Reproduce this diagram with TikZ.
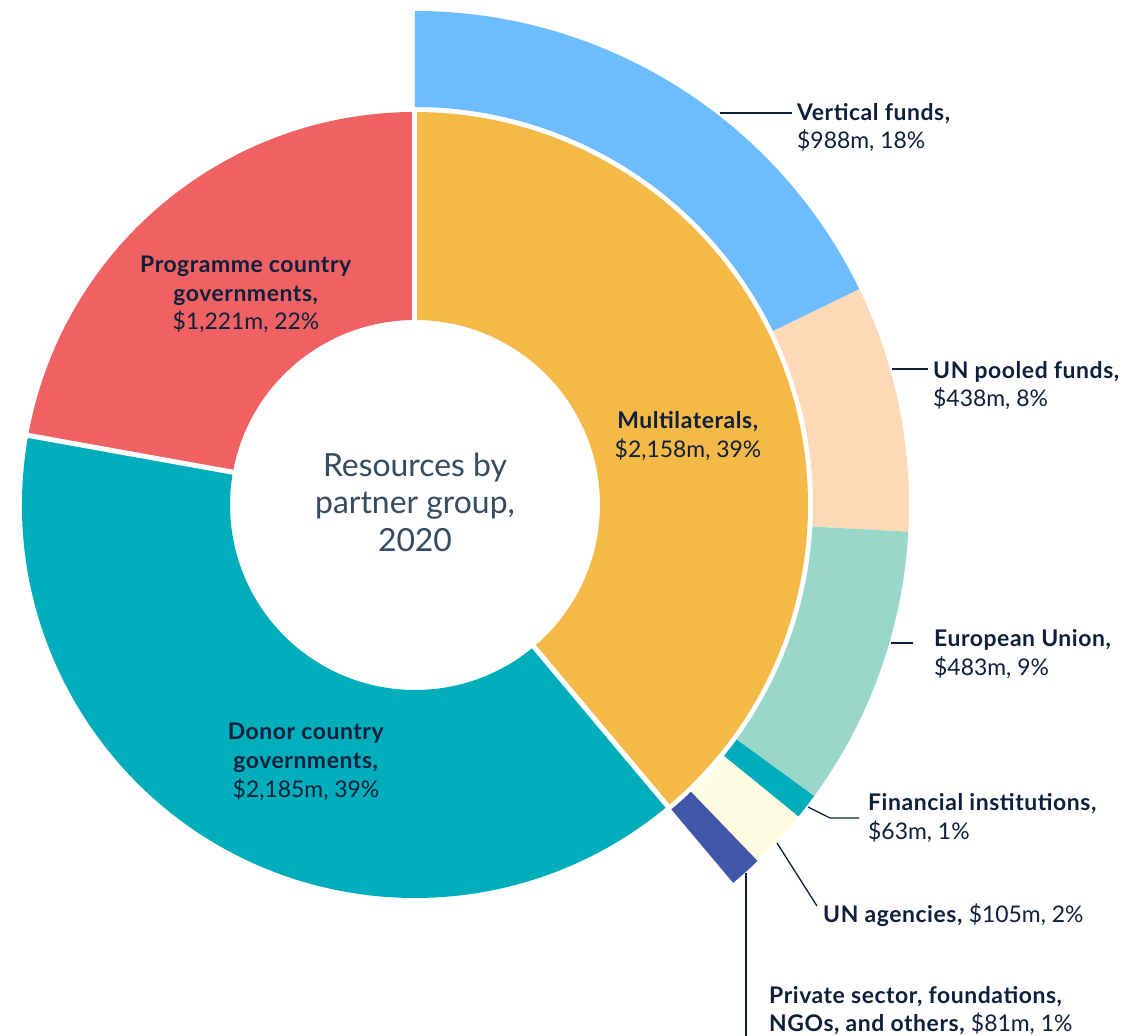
\documentclass[tikz,border=0pt]{standalone}
\usepackage{fontspec}
\setmainfont{Lato}[BoldFeatures={LetterSpace=2.5}]
\definecolor{ink}{HTML}{0E1F3B}
\definecolor{centerink}{HTML}{354B60}
\definecolor{cVF}{HTML}{6DBCFF}
\definecolor{cUNP}{HTML}{FDD9B8}
\definecolor{cEU}{HTML}{99D7C8}
\definecolor{cTeal}{HTML}{00AEBB}
\definecolor{cUNA}{HTML}{FFFDE1}
\definecolor{cPS}{HTML}{4056A9}
\definecolor{cMulti}{HTML}{F4B946}
\definecolor{cProg}{HTML}{EF6163}
\newcommand\annsec[5]{\fill[#1] (#2:#4) arc[start angle=#2,end angle=#3,radius=#4] -- (#3:#5) arc[start angle=#3,end angle=#2,radius=#5] -- cycle;}
\begin{document}
\begin{tikzpicture}[x=1bp,y=1bp,
  lbl/.style={inner sep=0pt, anchor=base west, align=left, text=ink, font=\fontsize{23}{29}\selectfont},
  inlbl/.style={inner sep=0pt, anchor=base, align=center, text=ink, font=\fontsize{23}{29}\selectfont},
  leader/.style={draw=ink, line width=1.3bp},
  sep/.style={draw=white, line width=5bp}]
\useasboundingbox (-415,-531) rectangle (716,505);
\fill[white] (-415,-531) rectangle (716,505);
% inner ring
\annsec{cMulti}{90}{-50}{185}{393}
\annsec{cTeal}{-50}{-190.2}{185}{393}
\annsec{cProg}{169.8}{90}{185}{393}
\draw[sep] (90:180) -- (90:397);
\draw[sep] (-50:180) -- (-50:397);
\draw[sep] (169.8:180) -- (169.8:397);
% outer ring
\annsec{cVF}{90}{25.9}{398}{494}
\annsec{cUNP}{25.9}{-3.1}{398}{494}
\annsec{cEU}{-3.1}{-36.1}{398}{494}
\annsec{cTeal}{-36.1}{-39.1}{398}{494}
\annsec{cUNA}{-39.1}{-46.1}{398}{494}
\annsec{cPS}{-46.1}{-49.9}{398}{494}
% centre text
\node[inner sep=0pt, anchor=base, align=center, text=centerink, font=\fontsize{32}{37.5}\selectfont] (title) at (0,-46) {Resources by\\partner group,\\2020};
% inner labels
\node[inlbl] (prog) at (-169,175) {\textbf{Programme country}\\\textbf{governments,}\\\$1,221m, 22\%};
\node[inlbl] (multi) at (273,48) {\textbf{Multilaterals,}\\\$2,158m, 39\%};
\node[inlbl] (donor) at (-109,-292) {\textbf{Donor country}\\\textbf{governments,}\\\$2,185m, 39\%};
% outer labels
\node[lbl] (vf) at (382,356) {\textbf{Vertical funds,}\\\$988m, 18\%};
\node[lbl] (unp) at (518,98) {\textbf{UN pooled funds,}\\\$438m, 8\%};
\node[lbl] (eu) at (519,-170) {\textbf{European Union,}\\\$483m, 9\%};
\node[lbl] (fi) at (453,-334) {\textbf{Financial institutions,}\\\$63m, 1\%};
\node[lbl] (una) at (408,-417) {\textbf{UN agencies,} \$105m, 2\%};
\node[lbl, font=\fontsize{23}{28}\selectfont] (ps) at (354,-526) {\textbf{Private sector, foundations,}\\\textbf{NGOs, and others,} \$81m, 1\%};
% leader lines
\coordinate (vf1) at (305,392); \coordinate (vf2) at (377,392);
\coordinate (unp1) at (477,136); \coordinate (unp2) at (513,136);
\coordinate (eu1) at (476,-138); \coordinate (eu2) at (498,-138);
\coordinate (fi1) at (393,-302); \coordinate (fi2) at (415,-313); \coordinate (fi3) at (444,-313);
\coordinate (una1) at (362,-338); \coordinate (una2) at (402,-401);
\coordinate (ps1) at (331,-368); \coordinate (ps2) at (331,-531);
\draw[leader] (vf1) -- (vf2);
\draw[leader] (unp1) -- (unp2);
\draw[leader] (eu1) -- (eu2);
\draw[leader] (fi1) -- (fi2) -- (fi3);
\draw[leader] (una1) -- (una2);
\draw[leader] (ps1) -- (ps2);
\end{tikzpicture}
\end{document}
